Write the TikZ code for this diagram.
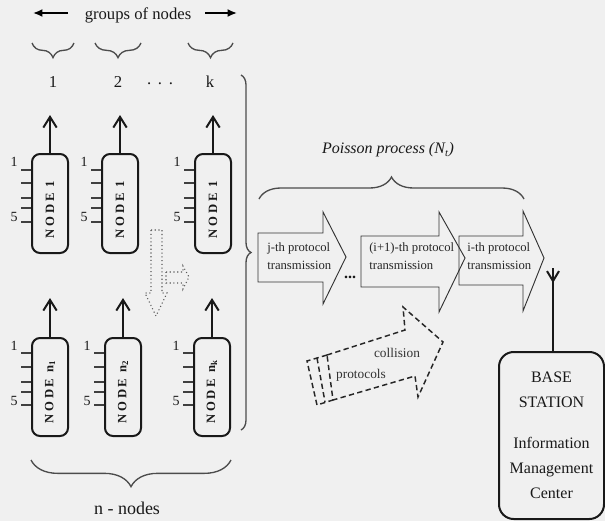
\documentclass[tikz,border=0pt]{standalone}
\usepackage{fontspec}
\setmainfont{Liberation Serif}
\usetikzlibrary{arrows.meta,decorations.pathreplacing,calc}
\definecolor{bg}{RGB}{240,240,240}
\definecolor{ink}{RGB}{25,25,25}
\begin{document}
\begin{tikzpicture}[x=0.75pt,y=-0.75pt,
  box/.style={draw=ink, line width=1.5pt, rounded corners=6pt, minimum width=27pt, inner sep=0pt},
  nodetxt/.style={rotate=90, inner sep=0pt, text=ink, font=\fontsize{9.5}{11}\selectfont\bfseries\addfontfeature{LetterSpace=22}},
  uparr/.style={line width=1.5pt, draw=ink, -{Straight Barb[length=8pt,width=10pt]}},
  tickln/.style={line width=1.1pt, draw=black!75},
  ticklbl/.style={font=\fontsize{10.5}{12}\selectfont, inner sep=0pt, text=ink},
  sig/.style={draw=black!80, line width=0.7pt},
  sigtxt/.style={font=\fontsize{9.5}{13.5}\selectfont, align=left, anchor=west, inner sep=0pt, text=black!85},
  brc/.style={draw=black!70, line width=1pt, decorate, decoration={brace, amplitude=#1}},
  dsh/.style={draw=black!85, line width=1.1pt, dash pattern=on 4pt off 2.5pt},
  dtt/.style={draw=black!65, line width=0.8pt, dotted},
  lbl/.style={font=\fontsize{12.5}{14}\selectfont, inner sep=0pt, text=ink},
  bsbox/.style={draw=ink, line width=1.5pt, rounded corners=11pt, minimum width=78.75pt, minimum height=125.25pt, align=center, inner sep=0pt, font=\fontsize{12}{18.75}\selectfont, text=ink}
]
\useasboundingbox (0,0) rectangle (605,521);
\fill[bg] (0,0) rectangle (605,521);

% header
\node[lbl] (grp) at (138,15) {groups of nodes};
\coordinate (gl1) at (68,13); \coordinate (gl2) at (33,13);
\coordinate (gr1) at (205,13); \coordinate (gr2) at (237,13);
\draw[line width=1.4pt, -{Latex[length=7pt,width=6pt]}] (gl1) -- (gl2);
\draw[line width=1.4pt, -{Latex[length=7pt,width=6pt]}] (gr1) -- (gr2);

\draw[brc=11pt] (74,43) -- (32,43);
\draw[brc=11pt] (141,43) -- (95,43);
\draw[brc=11pt] (233,43) -- (188,43);
\node[lbl] (g1) at (53,82) {1};
\node[lbl] (g2) at (118,82) {2};
\node[lbl] (gd) at (160,84) {.\hspace{5pt}.\hspace{5pt}.};
\node[lbl] (gk) at (210,82) {k};

% top row of nodes
\foreach \nm/\cx/\txt in {a1/50/{NODE 1}, a2/120/{NODE 1}, ak/213/{NODE 1}} {
  \node[box, minimum height=74.25pt] (\nm) at (\cx,203.5) {};
  \node[nodetxt] (\nm txt) at ($(\nm)+(0,6)$) {\txt};
  \coordinate (\nm top) at (\cx,115);
  \draw[uparr] (\nm.north) -- (\nm top);
  \foreach \dy in {17,30,45,55,69} {
    \draw[tickln] ($(\nm.north west)+(0,\dy)$) -- ($(\nm.north west)+(-10,\dy)$);
  }
  \node[ticklbl] (\nm l1) at ($(\nm.north west)+(-17,9)$) {1};
  \node[ticklbl] (\nm l5) at ($(\nm.north west)+(-17,64)$) {5};
}

% bottom row of nodes
\foreach \nm/\cx/\txt in {b1/50/{NODE n\textsubscript{1}}, b2/123/{NODE n\textsubscript{2}}, bk/212/{NODE n\textsubscript{k}}} {
  \node[box, minimum height=73.5pt] (\nm) at (\cx,387) {};
  \node[nodetxt] (\nm txt) at ($(\nm)+(0,5)$) {\txt};
  \coordinate (\nm top) at (\cx,298);
  \draw[uparr] (\nm.north) -- (\nm top);
  \foreach \dy in {16,30,45,55,68} {
    \draw[tickln] ($(\nm.north west)+(0,\dy)$) -- ($(\nm.north west)+(-10,\dy)$);
  }
  \node[ticklbl] (\nm l1) at ($(\nm.north west)+(-17,9)$) {1};
  \node[ticklbl] (\nm l5) at ($(\nm.north west)+(-17,64)$) {5};
}

% dotted arrows
\draw[dtt] (151,230) -- (162,230) -- (162,293) -- (167,293) -- (156,316) -- (145,293) -- (151,293) -- cycle;
\draw[dtt] (166,272) -- (183,272) -- (183,266) -- (189,277) -- (183,289) -- (183,283) -- (166,283) -- cycle;

% braces
\draw[brc=7.5pt] (241,75) -- (241,430);
\draw[brc=20pt] (231,460) -- (31,460);
\node[font=\fontsize{13.5}{15}\selectfont, inner sep=0pt, text=ink] (nn) at (127,508) {n - nodes};

% Poisson process
\node[font=\fontsize{12}{14}\selectfont\itshape, inner sep=0pt, text=ink] (pp) at (388,150) {Poisson process (N\textsubscript{t})};
\draw[brc=16.5pt] (259,199) -- (524,199);

% protocol transmission arrows
\draw[sig] (258,233) -- (323,233) -- (323,212) -- (346,257) -- (323,304) -- (323,282) -- (258,282) -- cycle;
\draw[sig] (361,236) -- (439,236) -- (439,212) -- (465,258) -- (439,312) -- (439,287) -- (361,287) -- cycle;
\draw[sig] (459,236) -- (523,236) -- (523,211) -- (544,258) -- (523,311) -- (523,285) -- (459,285) -- cycle;
\node[sigtxt] (t1) at (267,256) {j-th protocol\\transmission};
\node[sigtxt] (t2) at (369,256) {(i+1)-th protocol\\transmission};
\node[sigtxt] (t3) at (467,256) {i-th protocol\\transmission};
\node[font=\fontsize{12}{14}\selectfont\bfseries, inner sep=0pt, text=ink] (dots) at (350,277) {...};

% collision arrow
\draw[dsh] (327,355) -- (405,330) -- (403,307) -- (443,342) -- (418,397) -- (415,376) -- (333,400) -- cycle;
\draw[dsh] (327,355) -- (307,361) -- (317,405) -- (333,400);
\draw[dsh] (317,358) -- (325,402);
\node[font=\fontsize{10}{11}\selectfont, inner sep=0pt, text=black!80] (col) at (397,353) {collision};
\node[font=\fontsize{10}{11}\selectfont, inner sep=0pt, text=black!80] (pro) at (361,375) {protocols};

% base station
\node[bsbox] (bs) at (551.5,435.5) {BASE\\STATION\\[12pt]Information\\Management\\Center};
\coordinate (ant) at (553,268);
\coordinate (antv) at (553,283);
\draw[line width=1.5pt, draw=ink] (ant |- bs.north) -- (ant);
\draw[line width=1.5pt, draw=ink, -{Straight Barb[length=7.5pt,width=9pt]}] (ant) -- (antv);
\end{tikzpicture}
\end{document}
